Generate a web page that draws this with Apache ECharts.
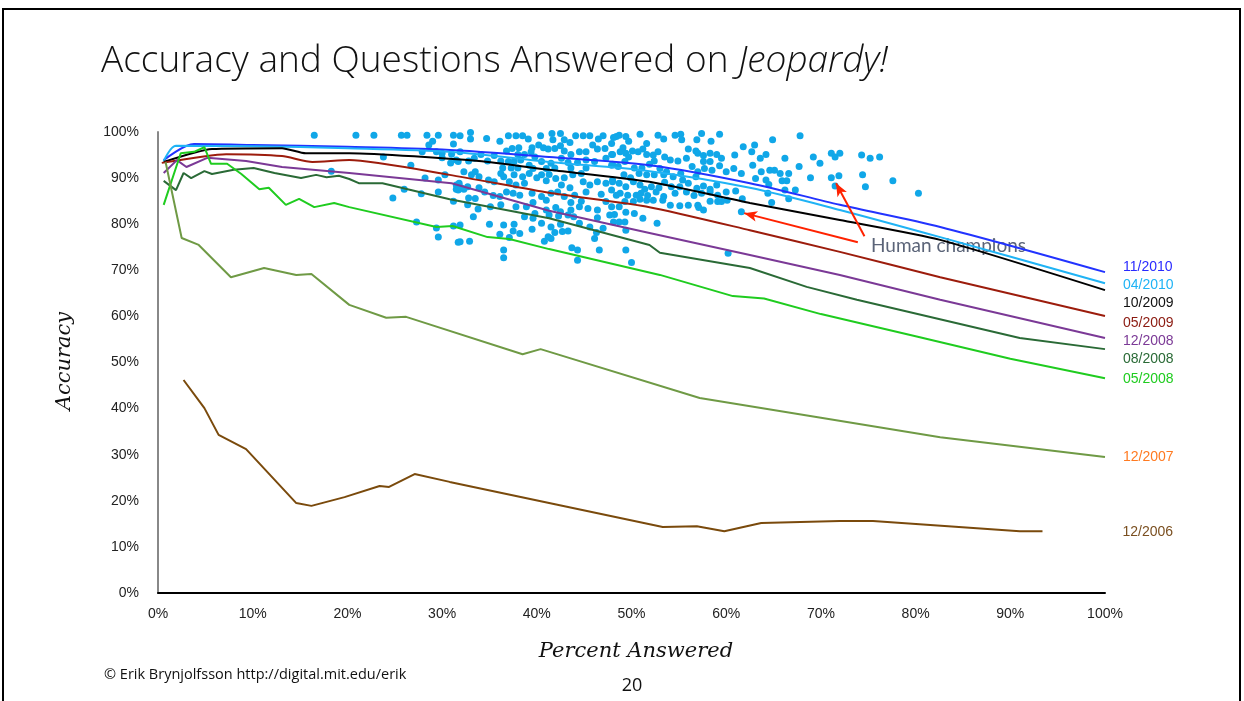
<!DOCTYPE html>
<html>
<head>
<meta charset="utf-8">
<script src="https://cdn.jsdelivr.net/npm/echarts@6/dist/echarts.min.js"></script>
<style>
html,body{margin:0;padding:0;background:#fff;}
#chart{width:1244px;height:701px;}
</style>
</head>
<body>
<div id="chart"></div>
<script>
// ---- Data (x = percent answered, y = accuracy, both in %) ----
const xTicks = [0,10,20,30,40,50,60,70,80,90,100];
const yTicks = [0,10,20,30,40,50,60,70,80,90,100];

const seriesNames = ['11/2010','04/2010','10/2009','05/2009','12/2008','08/2008','05/2008','12/2007','12/2006'];

const s_2010_11 = [[0.6,93.9],[3.8,97.4],[10,97.2],[20,96.8],[30,96.2],[41.3,94.6],[51.9,92.8],[62.5,88.9],[72,84.2],[82.6,79.4],[100,69.6]];
const s_2010_04 = [[0.6,93.7],[1.9,97.0],[10,96.9],[20,96.5],[30.8,95.7],[41.3,93.5],[51.9,91.5],[62.5,87.9],[72,83.1],[82.6,77.2],[100,67.2]];
const s_2009_10 = [[0.6,93.5],[5.7,96.3],[13.1,96.5],[15.6,95.4],[20.2,95.4],[33.9,93.7],[41.3,91.8],[51.9,89.2],[62.5,84.6],[72,80.9],[82.6,76.6],[100,65.7]];
const s_2009_05 = [[0.4,93.3],[7.2,95.2],[13.1,94.8],[16.3,93.5],[20.2,93.9],[30.8,90.7],[41.3,86.8],[51.9,83.7],[62.5,78.7],[72,74.0],[82.6,68.5],[100,60.1]];
const s_2008_12 = [[0.6,91.1],[2.0,93.9],[3.0,92.4],[5.2,94.4],[9.3,93.7],[13.1,92.4],[20.2,91.1],[31.0,88.9],[41.3,82.9],[51.9,78.1],[62.5,73.3],[72,69.0],[82.6,63.6],[100,55.3]];
const s_2008_08 = [[0.6,89.4],[1.9,87.4],[2.7,91.1],[3.5,90.0],[4.9,91.5],[5.7,90.9],[8.0,91.8],[10.1,92.2],[12.3,91.1],[15.1,90.0],[16.7,90.7],[17.8,90.2],[19.1,90.5],[20.2,89.8],[21.2,88.9],[23.7,88.9],[30.8,85.4],[41.3,81.3],[51.9,75.5],[53.0,73.8],[62.5,70.5],[68.5,66.4],[73.8,63.6],[91,55.3],[100,52.9]];
const s_2008_05 = [[0.6,84.2],[2.4,95.4],[3.8,95.7],[4.9,96.7],[5.6,93.1],[7.3,93.1],[8.8,90.9],[10.7,87.6],[11.7,87.9],[13.5,84.2],[14.9,85.5],[16.5,83.7],[18.6,84.6],[20.2,83.7],[29.4,79.4],[31.1,79.6],[34.8,77.2],[37.1,76.8],[41.3,74.6],[53.0,69.0],[60.7,64.4],[64.0,63.9],[70,60.5],[80,55.7],[90,50.8],[100,46.6]];
const s_2007_12 = [[0.8,93.5],[2.5,77.0],[4.3,75.5],[7.7,68.5],[11.2,70.5],[14.6,69.0],[16.2,69.2],[20.2,62.5],[24.1,59.7],[26.2,59.9],[38.5,51.8],[40.4,52.9],[57.2,42.3],[70,38.0],[82.6,33.8],[100,29.5]];
const s_2006_12 = [[2.7,46.2],[4.9,40.1],[6.4,34.3],[9.3,31.2],[14.6,19.5],[16.2,18.9],[19.7,20.8],[23.4,23.2],[24.4,23.0],[27.1,25.8],[30.8,24.1],[53.3,14.3],[56.9,14.5],[59.8,13.4],[63.7,15.2],[72,15.6],[75.5,15.6],[91,13.4],[93.4,13.4]];

const champions = [
[16.5,99.3],[20.9,99.3],[22.8,99.3],[25.7,99.3],[26.3,99.3],[28.4,99.3],[29.6,99.3],[31.2,99.3],[29.0,98.0],[28.6,97.2],[31.2,97.4],[27.9,95.7],[29.4,95.7],[30.0,95.4],[30.0,94.4],[31.0,95.2],[23.8,94.6],[26.7,92.8],[30.9,93.3],[31.5,93.9],[18.3,91.5],[28.2,90.0],[29.6,89.6],[30.3,90.7],[31.5,88.5],[31.5,87.6],[26.0,87.6],[27.8,86.6],[29.6,87.0],[24.8,85.7],[31.2,85.0],[27.3,80.5],[29.4,79.2],[31.2,79.6],[29.6,77.2],[31.7,76.1],
[31.9,99.2],[33.0,99.9],[33.0,98.5],[34.7,98.6],[36.1,98.0],[37.0,99.2],[37.8,99.2],[38.5,99.2],[39.1,98.5],[40.4,99.2],[41.6,99.7],[41.7,98.3],[42.5,99.7],[42.9,98.3],[43.5,97.7],[44.1,99.2],[44.9,99.2],[45.6,99.2],[46.5,98.5],[47.0,99.2],[47.9,97.5],
[34.1,95.1],[31.9,95.7],[36.8,95.9],[37.4,96.4],[38.1,96.6],[39.5,96.6],[39.4,95.7],[40.2,97.2],[40.7,96.6],[41.2,96.3],[41.9,96.4],[42.5,97.0],[42.9,95.9],[43.6,95.1],[44.5,95.7],[45.2,95.7],[45.9,97.2],[46.4,96.3],[47.2,96.4],[47.9,95.1],[38.0,95.1],[38.7,95.1],[39.8,94.6],
[31.7,93.6],[32.8,93.7],[35.5,94.9],[36.2,93.7],[37.0,93.6],[37.6,93.6],[38.3,93.9],[39.2,92.8],[40.5,93.6],[41.5,93.2],[42.6,94.3],[43.3,93.4],[44.3,93.4],[45.2,93.9],[46.1,93.6],[47.3,94.3],[48.0,93.0],[33.4,94.3],[34.8,93.7],[36.4,92.2],[37.3,92.2],[38.0,92.2],[39.6,92.1],[41.0,92.1],[41.9,92.2],[43.6,92.2],[45.2,92.2],
[32.3,91.4],[33.1,90.7],[33.5,91.4],[33.9,90.3],[34.9,89.6],[36.2,91.0],[36.5,90.3],[37.1,89.2],[37.6,90.7],[38.5,90.3],[39.2,91.0],[40.0,90.1],[40.5,90.7],[41.3,90.8],[42.0,89.9],[42.9,90.1],[43.8,90.7],[44.9,89.2],[45.6,88.5],[46.4,89.2],[47.3,88.9],[48.0,89.6],[31.8,88.9],[32.7,88.1],[33.9,87.9],[35.5,89.2],[37.8,88.5],[38.7,88.9],[41.0,89.4],[42.6,88.5],[43.5,87.9],[44.7,91.0],
[31.7,87.4],[32.3,87.6],[32.8,85.7],[34.5,87.0],[35.4,86.2],[36.1,86.0],[36.8,87.0],[37.5,86.7],[38.2,86.3],[39.5,86.7],[40.5,86.0],[41.5,86.7],[42.2,87.0],[42.9,86.0],[44.0,86.3],[45.2,87.0],[46.8,86.5],[47.9,87.4],[33.5,85.6],[39.6,84.7],[41.0,85.2],[43.6,84.7],[44.7,85.0],[47.3,84.9],[32.0,87.9],
[32.7,84.2],[33.8,83.3],[35.1,83.8],[36.2,84.2],[37.8,83.8],[38.9,83.8],[39.8,82.3],[41.0,83.1],[42.0,83.6],[42.5,82.7],[43.3,82.0],[43.6,83.1],[44.5,83.8],[45.4,83.4],[46.4,83.1],[47.7,82.0],[33.3,81.6],[38.7,81.6],[39.6,81.3],[41.3,82.0],[42.3,81.8],[43.9,81.6],[46.4,81.4],
[31.9,79.8],[35.0,80.0],[36.5,79.8],[37.6,80.0],[37.5,78.5],[38.2,78.0],[39.5,78.9],[40.5,80.2],[41.5,79.4],[41.9,78.2],[42.5,80.0],[42.7,78.4],[43.3,78.5],[44.5,80.2],[45.6,79.4],[46.3,78.2],[47.0,79.1],[36.1,77.8],[37.1,77.1],[41.2,77.3],
[31.9,76.2],[32.9,76.3],[40.8,76.3],[41.5,76.9],[43.7,74.9],[44.3,74.4],[46.6,74.4],[36.5,74.4],[36.5,72.7],[44.3,72.2],[46.1,76.9],
[48.1,98.8],[48.7,99.3],[49.4,99.0],[49.7,98.0],[50.9,99.5],[51.6,97.5],[52.8,99.3],[53.4,98.5],[54.6,99.3],[55.2,99.5],[55.3,98.3],[56.9,98.3],[57.4,99.7],[58.4,98.0],[59.3,99.5],[56.0,96.3],[56.8,95.9],[61.8,96.8],[63.0,97.2],[49.1,96.6],[48.4,99.0],
[48.0,95.1],[48.8,95.7],[49.4,95.4],[49.7,94.6],[50.1,95.9],[50.7,95.7],[51.2,96.3],[51.6,95.1],[52.3,95.0],[52.8,95.7],[53.5,94.6],[54.1,93.9],[54.9,93.7],[55.8,94.3],[57.0,95.4],[57.6,94.9],[58.3,95.4],[59.0,95.1],[59.5,94.3],[60.9,95.0],[62.7,95.7],[63.6,94.3],[64.2,95.1],[57.6,93.6],[58.3,93.6],
[47.9,92.8],[48.6,92.5],[49.3,93.6],[50.3,92.2],[51.1,92.2],[51.9,93.0],[52.4,93.7],[53.0,92.1],[53.7,91.4],[54.4,90.3],[55.2,91.0],[56.4,92.5],[57.0,91.4],[57.7,92.1],[58.5,91.7],[59.3,92.7],[60.0,91.4],[60.8,92.1],[61.6,91.0],[62.8,92.8],[63.7,91.4],[64.2,89.6],[63.1,89.9],[49.2,90.7],[49.9,90.1],[50.8,91.0],[51.6,90.7],[52.4,90.7],[53.4,90.7],[55.4,89.6],[56.8,90.3],
[48.0,89.2],[48.7,88.9],[49.4,88.1],[50.2,89.2],[50.9,88.5],[51.4,87.6],[52.1,88.1],[52.9,87.9],[53.5,89.1],[54.2,88.1],[55.1,88.1],[56.0,88.9],[56.9,87.8],[57.6,88.3],[58.3,87.6],[59.0,88.5],[60.0,87.0],[61.0,87.2],[48.8,86.7],[49.6,86.3],[50.5,86.3],[51.0,86.7],[51.7,86.2],[52.6,87.0],[53.4,86.0],[54.6,86.7],[55.8,87.0],[56.6,86.2],[57.4,86.7],[58.3,87.0],[59.1,86.3],[59.5,84.9],[60.1,85.2],[61.7,85.5],
[48.4,86.3],[49.3,84.9],[50.2,84.9],[50.9,85.4],[51.6,85.2],[52.3,85.2],[53.3,85.2],[54.1,84.1],[55.1,84.0],[56.0,84.1],[57.0,84.1],[57.6,83.1],[58.3,85.0],[59.1,84.9],[47.9,83.8],[48.7,83.8],[49.4,82.6],[48.2,82.1],[50.3,82.3],[51.2,81.3],[48.1,80.5],[48.7,80.5],[49.3,80.5],[52.7,80.2],[61.6,82.7],[57.1,83.6],
[49.4,78.7],[49.4,74.4],[50.0,71.7],[60.2,73.7],
[64.9,98.3],[67.8,99.2],[66.2,94.3],[69.2,94.6],[69.9,93.2],[71.1,95.4],[71.5,94.6],[72.0,95.4],[74.3,95.0],[75.2,94.3],[76.2,94.6],[67.7,92.5],[64.6,91.7],[65.1,91.7],[65.7,91.0],[66.6,91.0],[65.9,89.4],[66.4,89.4],[68.9,90.1],[71.1,90.1],[71.9,90.5],[74.4,90.7],[77.6,89.4],[64.5,88.6],[71.5,88.3],[74.7,88.1],[80.3,86.7],[66.2,87.4],[67.3,87.4],[64.4,86.7],[66.6,85.5],[64.8,84.7]
];

// arrows: [from, to] in data coords
const arrowA = [[73.9,76.1],[61.9,82.4]];
const arrowB = [[74.6,77.4],[71.6,88.9]];

// ---- Styles ----
const lineColors = ['#2233ff','#1fb3f5','#000000','#9c1c0c','#7b3996','#2a6a36','#1fcc1f','#6f9a45','#7a4a0c'];
const labelColors = ['#2a2aff','#1fb3f5','#111111','#8b1a10','#7b3996','#2a6a36','#1fcc1f','#ff7a20','#7a4f20'];
const labelOffsets = [[0,-5],[0,2],[0,13],[0,7],[0,3],[0,10],[0,1],[0,0],[62,1]];
const seriesData = [s_2010_11,s_2010_04,s_2009_10,s_2009_05,s_2008_12,s_2008_08,s_2008_05,s_2007_12,s_2006_12];
const smoothFlags = [0.3,0.3,0.2,0.2,0,0,0,0,0];

const chart = echarts.init(document.getElementById('chart'), null, {renderer:'canvas'});

const lineSeries = seriesNames.map((name, i) => ({
  name: name,
  type: 'line',
  data: seriesData[i],
  smooth: smoothFlags[i],
  showSymbol: false,
  symbol: 'none',
  z: 3,
  lineStyle: {color: lineColors[i], width: 2},
  itemStyle: {color: lineColors[i]},
  endLabel: {
    show: true,
    formatter: name,
    color: labelColors[i],
    fontFamily: 'Liberation Sans, Arial, sans-serif',
    fontSize: 14,
    distance: 18,
    offset: labelOffsets[i]
  },
  silent: true,
  animation: false
}));

const option = {
  animation: false,
  backgroundColor: '#fff',
  grid: {left: 158, right: 139, top: 132, bottom: 108},
  xAxis: {
    type: 'value', min: 0, max: 100, interval: 10,
    axisLine: {show: true, lineStyle: {color: '#000', width: 2}},
    axisTick: {show: false},
    splitLine: {show: false},
    axisLabel: {formatter: '{value}%', color: '#222', fontSize: 14, fontFamily: 'Liberation Sans, Arial, sans-serif', margin: 14}
  },
  yAxis: {
    type: 'value', min: 0, max: 100, interval: 10,
    axisLine: {show: true, lineStyle: {color: '#888', width: 2}},
    axisTick: {show: false},
    splitLine: {show: false},
    axisLabel: {formatter: '{value}%', color: '#222', fontSize: 14, fontFamily: 'Liberation Sans, Arial, sans-serif', margin: 19}
  },
  series: [
    {
      name: 'Human champions',
      type: 'scatter',
      data: champions,
      symbol: 'circle',
      symbolSize: 7,
      z: 2,
      itemStyle: {color: '#10a7e8', opacity: 1},
      silent: true,
      markLine: {
        silent: true,
        symbol: ['none','arrow'],
        symbolSize: [8, 13],
        label: {show: false},
        lineStyle: {color: '#ff2200', width: 2, type: 'solid'},
        data: [
          [{coord: arrowA[0]}, {coord: arrowA[1]}],
          [{coord: arrowB[0]}, {coord: arrowB[1]}]
        ]
      }
    }
  ].concat(lineSeries),
  graphic: [
    {type: 'rect', shape: {x: 3, y: 9, width: 1237, height: 720}, style: {fill: 'none', stroke: '#000', lineWidth: 2}, silent: true},
    {type: 'text', left: 101, top: 43, style: {
      text: '{a|Accuracy and Questions Answered on }{b|Jeopardy!}',
      rich: {
        a: {fontFamily: 'Open Sans', fontWeight: 300, fontSize: 37, fill: '#111'},
        b: {fontFamily: 'Open Sans', fontWeight: 300, fontStyle: 'italic', fontSize: 37, fill: '#111'}
      }
    }},
    {type: 'text', x: 65, y: 361, rotation: Math.PI/2, style: {
      text: 'Accuracy', fontFamily: 'DejaVu Serif', fontStyle: 'italic', fontSize: 21, fill: '#111',
      textAlign: 'center', textVerticalAlign: 'middle'
    }},
    {type: 'text', x: 636, y: 652, style: {
      text: 'Percent Answered', fontFamily: 'DejaVu Serif', fontStyle: 'italic', fontSize: 21, fill: '#111',
      textAlign: 'center', textVerticalAlign: 'middle'
    }},
    {type: 'text', x: 871, y: 246, style: {
      text: 'Human champions', fontFamily: 'Lato', fontSize: 19, fill: '#5b6478',
      textAlign: 'left', textVerticalAlign: 'middle'
    }},
    {type: 'text', x: 104, y: 675, style: {
      text: '\u00a9 Erik Brynjolfsson http://digital.mit.edu/erik', fontFamily: 'Open Sans', fontSize: 14.5, fill: '#111',
      textAlign: 'left', textVerticalAlign: 'middle'
    }},
    {type: 'text', x: 632, y: 686, style: {
      text: '20', fontFamily: 'Open Sans', fontSize: 18, fill: '#111',
      textAlign: 'center', textVerticalAlign: 'middle'
    }}
  ]
};
chart.setOption(option);
</script>
</body>
</html>
